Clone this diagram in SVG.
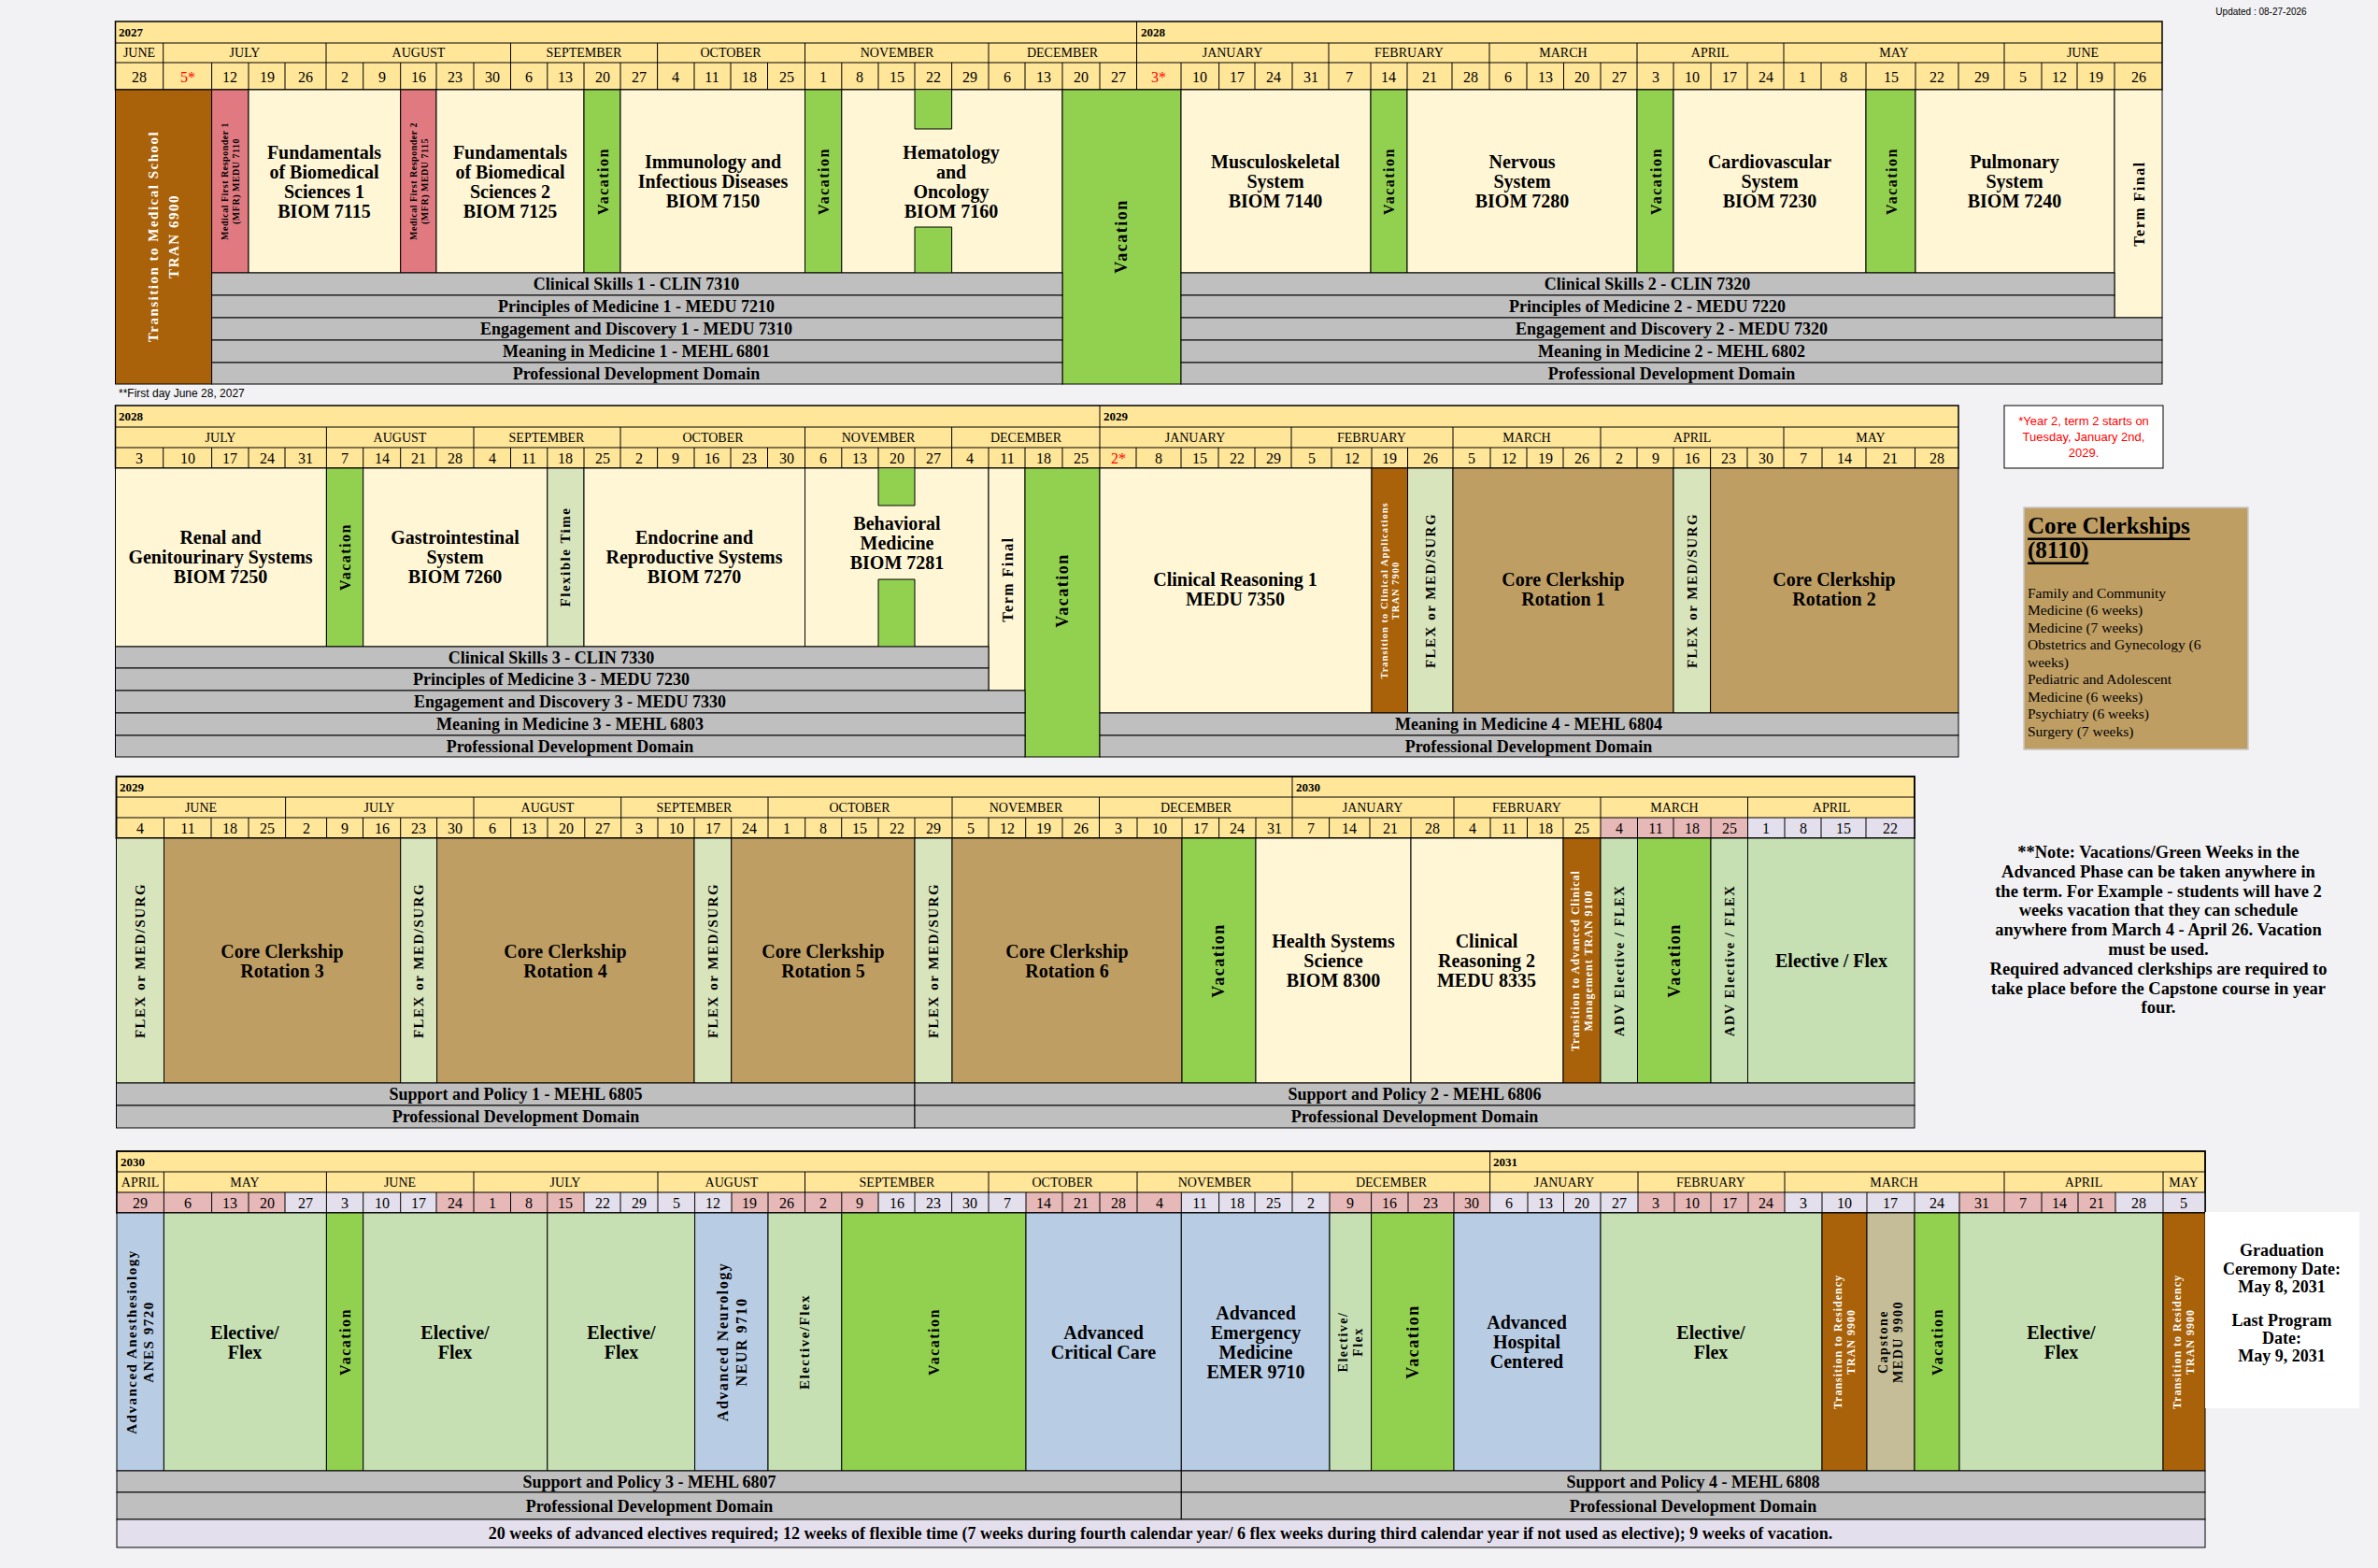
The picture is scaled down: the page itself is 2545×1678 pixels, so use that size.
<svg xmlns="http://www.w3.org/2000/svg" width="2545" height="1678" viewBox="0 0 2545 1678">
<style>
.bg{fill:#F2F2F4}
.hd{fill:#FFE699;stroke:#000;stroke-width:1.5}
.gl{stroke:#000;stroke-width:1;fill:none}
.b{stroke:#000;stroke-width:1}
.cr{fill:#FFF6D6}.gr{fill:#92D050}.br{fill:#A9620A}.pk{fill:#E07A80}.gy{fill:#BFBFBF}
.fx{fill:#D8E4BC}.el{fill:#C6E0B4}.bl{fill:#B8CCE4}.cc{fill:#BF9E64}.cp{fill:#C4BD97}
.P{fill:#E6B8B7}.L{fill:#E4DFEC}.lv{fill:#E4DFEC}
text{font-family:"Liberation Serif",serif;text-anchor:middle;dominant-baseline:central;fill:#000}
.yr{font-size:13px;font-weight:bold;text-anchor:start}
.mo{font-size:14px}
.dy{font-size:16px}
.red{fill:#FF0000}
.c{font-size:20px;font-weight:bold}
.g{font-size:18px;font-weight:bold}
.v{font-weight:bold;letter-spacing:1.5px}
.w{fill:#FFFFFF}
</style>
<rect class="bg" x="0" y="0" width="2545" height="1678"/>
<text x="2420" y="12" style="font-size:10px;font-family:'Liberation Sans',sans-serif">Updated : 08-27-2026</text>

<!-- ============ SECTION 1 ============ -->
<g id="sec1-header">
<rect class="hd" x="123.5" y="23" width="2190.5" height="73"/>
<path class="gl" d="M123.5 46H2314M123.5 67H2314M1216.5 23V46"/>
<path class="gl" d="M174.7 46V67M349 46V67M546.5 46V67M703.6 46V67M861.5 46V67M1058 46V67M1216.5 46V67M1422 46V67M1594 46V67M1752 46V67M1909 46V67M2145 46V67"/>
<path class="gl" d="M174.7 67V96M226.6 67V96M266 67V96M305 67V96M349 67V96M388.7 67V96M428.7 67V96M467 67V96M507 67V96M546.5 67V96M585.8 67V96M625 67V96M664 67V96M703.6 67V96M743 67V96M782 67V96M821.5 67V96M861.5 67V96M900.8 67V96M940 67V96M979 67V96M1018.6 67V96M1058 67V96M1097 67V96M1137 67V96M1177 67V96M1216.5 67V96M1264 67V96M1304.6 67V96M1343 67V96M1383 67V96M1422 67V96M1467 67V96M1506 67V96M1554 67V96M1594 67V96M1634 67V96M1673.5 67V96M1713 67V96M1752 67V96M1791 67V96M1831 67V96M1870 67V96M1909 67V96M1949 67V96M1997 67V96M2050 67V96M2096 67V96M2145 67V96M2185 67V96M2223 67V96M2263 67V96"/>
<text class="yr" x="127" y="34.5">2027</text><text class="yr" x="1221" y="34.5">2028</text>
<g class="mo">
<text x="149" y="56.5">JUNE</text><text x="262" y="56.5">JULY</text><text x="448" y="56.5">AUGUST</text><text x="625" y="56.5">SEPTEMBER</text><text x="782" y="56.5">OCTOBER</text><text x="960" y="56.5">NOVEMBER</text><text x="1137" y="56.5">DECEMBER</text><text x="1319" y="56.5">JANUARY</text><text x="1508" y="56.5">FEBRUARY</text><text x="1673" y="56.5">MARCH</text><text x="1830" y="56.5">APRIL</text><text x="2027" y="56.5">MAY</text><text x="2229" y="56.5">JUNE</text>
</g>
<g class="dy">
<text x="149" y="82">28</text><text class="red" x="201" y="82">5*</text><text x="246" y="82">12</text><text x="286" y="82">19</text><text x="327" y="82">26</text><text x="369" y="82">2</text><text x="409" y="82">9</text><text x="448" y="82">16</text><text x="487" y="82">23</text><text x="527" y="82">30</text><text x="566" y="82">6</text><text x="605" y="82">13</text><text x="645" y="82">20</text><text x="684" y="82">27</text><text x="723" y="82">4</text><text x="762" y="82">11</text><text x="802" y="82">18</text><text x="842" y="82">25</text><text x="881" y="82">1</text><text x="920" y="82">8</text><text x="960" y="82">15</text><text x="999" y="82">22</text><text x="1038" y="82">29</text><text x="1078" y="82">6</text><text x="1117" y="82">13</text><text x="1157" y="82">20</text><text x="1197" y="82">27</text><text class="red" x="1240" y="82">3*</text><text x="1284" y="82">10</text><text x="1324" y="82">17</text><text x="1363" y="82">24</text><text x="1403" y="82">31</text><text x="1444" y="82">7</text><text x="1486" y="82">14</text><text x="1530" y="82">21</text><text x="1574" y="82">28</text><text x="1614" y="82">6</text><text x="1654" y="82">13</text><text x="1693" y="82">20</text><text x="1733" y="82">27</text><text x="1772" y="82">3</text><text x="1811" y="82">10</text><text x="1851" y="82">17</text><text x="1890" y="82">24</text><text x="1929" y="82">1</text><text x="1973" y="82">8</text><text x="2024" y="82">15</text><text x="2073" y="82">22</text><text x="2121" y="82">29</text><text x="2165" y="82">5</text><text x="2204" y="82">12</text><text x="2243" y="82">19</text><text x="2289" y="82">26</text>
</g>
</g>
<g id="tran6900"><rect class="b br" x="123.5" y="96" width="103.1" height="315"/>
<text class="v w" transform="translate(175,253) rotate(-90)" style="font-size:15px"><tspan x="0" dy="-11">Transition to Medical School</tspan><tspan x="0" dy="22">TRAN 6900</tspan></text></g>
<g id="mfr1"><rect class="b pk" x="226.6" y="96" width="39.4" height="196"/>
<text class="v" transform="translate(246,194) rotate(-90)" style="font-size:10px;letter-spacing:0.5px"><tspan x="0" dy="-6">Medical First Responder 1</tspan><tspan x="0" dy="12">(MFR) MEDU 7110</tspan></text></g>
<g id="biom7115"><rect class="b cr" x="266" y="96" width="162.7" height="196"/>
<text class="c" x="347" y="194"><tspan x="347" dy="-31.5">Fundamentals</tspan><tspan x="347" dy="21">of Biomedical</tspan><tspan x="347" dy="21">Sciences 1</tspan><tspan x="347" dy="21">BIOM 7115</tspan></text></g>
<g id="mfr2"><rect class="b pk" x="428.7" y="96" width="38.3" height="196"/>
<text class="v" transform="translate(448,194) rotate(-90)" style="font-size:10px;letter-spacing:0.5px"><tspan x="0" dy="-6">Medical First Responder 2</tspan><tspan x="0" dy="12">(MFR) MEDU 7115</tspan></text></g>
<g id="biom7125"><rect class="b cr" x="467" y="96" width="158" height="196"/>
<text class="c" x="546" y="194"><tspan x="546" dy="-31.5">Fundamentals</tspan><tspan x="546" dy="21">of Biomedical</tspan><tspan x="546" dy="21">Sciences 2</tspan><tspan x="546" dy="21">BIOM 7125</tspan></text></g>
<g id="vac1"><rect class="b gr" x="625" y="96" width="39" height="196"/><text class="v" transform="translate(645,194) rotate(-90)" style="font-size:16px">Vacation</text></g>
<g id="biom7150"><rect class="b cr" x="664" y="96" width="197.5" height="196"/>
<text class="c" x="763" y="194"><tspan x="763" dy="-21">Immunology and</tspan><tspan x="763" dy="21">Infectious Diseases</tspan><tspan x="763" dy="21">BIOM 7150</tspan></text></g>
<g id="vac2"><rect class="b gr" x="861.5" y="96" width="39.3" height="196"/><text class="v" transform="translate(881,194) rotate(-90)" style="font-size:16px">Vacation</text></g>
<g id="biom7160"><rect class="b cr" x="900.8" y="96" width="236.2" height="196"/>
<rect class="gr" x="979" y="96.5" width="39.6" height="41.5"/><rect class="gr" x="979" y="243" width="39.6" height="48.5"/>
<path class="gl" d="M979 96V138H1018.6V96M979 292V243H1018.6V292"/>
<text class="c" x="1018" y="194"><tspan x="1018" dy="-31.5">Hematology</tspan><tspan x="1018" dy="21">and</tspan><tspan x="1018" dy="21">Oncology</tspan><tspan x="1018" dy="21">BIOM 7160</tspan></text></g>
<g id="vac3"><rect class="b gr" x="1137" y="96" width="127" height="315"/><text class="v" transform="translate(1200,253) rotate(-90)" style="font-size:18px">Vacation</text></g>
<g id="biom7140"><rect class="b cr" x="1264" y="96" width="203" height="196"/>
<text class="c" x="1365" y="194"><tspan x="1365" dy="-21">Musculoskeletal</tspan><tspan x="1365" dy="21">System</tspan><tspan x="1365" dy="21">BIOM 7140</tspan></text></g>
<g id="vac4"><rect class="b gr" x="1467" y="96" width="39" height="196"/><text class="v" transform="translate(1486,194) rotate(-90)" style="font-size:16px">Vacation</text></g>
<g id="biom7280"><rect class="b cr" x="1506" y="96" width="246" height="196"/>
<text class="c" x="1629" y="194"><tspan x="1629" dy="-21">Nervous</tspan><tspan x="1629" dy="21">System</tspan><tspan x="1629" dy="21">BIOM 7280</tspan></text></g>
<g id="vac5"><rect class="b gr" x="1752" y="96" width="39" height="196"/><text class="v" transform="translate(1772,194) rotate(-90)" style="font-size:16px">Vacation</text></g>
<g id="biom7230"><rect class="b cr" x="1791" y="96" width="206" height="196"/>
<text class="c" x="1894" y="194"><tspan x="1894" dy="-21">Cardiovascular</tspan><tspan x="1894" dy="21">System</tspan><tspan x="1894" dy="21">BIOM 7230</tspan></text></g>
<g id="vac6"><rect class="b gr" x="1997" y="96" width="53" height="196"/><text class="v" transform="translate(2024,194) rotate(-90)" style="font-size:16px">Vacation</text></g>
<g id="biom7240"><rect class="b cr" x="2050" y="96" width="213" height="196"/>
<text class="c" x="2156" y="194"><tspan x="2156" dy="-21">Pulmonary</tspan><tspan x="2156" dy="21">System</tspan><tspan x="2156" dy="21">BIOM 7240</tspan></text></g>
<g id="termfinal1"><rect class="b cr" x="2263" y="96" width="51" height="244"/><text class="v" transform="translate(2289,218) rotate(-90)" style="font-size:16px">Term Final</text></g>
<g id="sec1-bars">
<rect class="b gy" x="226.6" y="292" width="910.4" height="24"/><text class="g" x="681" y="304">Clinical Skills 1 - CLIN 7310</text>
<rect class="b gy" x="226.6" y="316" width="910.4" height="24"/><text class="g" x="681" y="328">Principles of Medicine 1 - MEDU 7210</text>
<rect class="b gy" x="226.6" y="340" width="910.4" height="24"/><text class="g" x="681" y="352">Engagement and Discovery 1 - MEDU 7310</text>
<rect class="b gy" x="226.6" y="364" width="910.4" height="24"/><text class="g" x="681" y="376">Meaning in Medicine 1 - MEHL 6801</text>
<rect class="b gy" x="226.6" y="388" width="910.4" height="23"/><text class="g" x="681" y="399.5">Professional Development Domain</text>
<rect class="b gy" x="1264" y="292" width="999" height="24"/><text class="g" x="1763" y="304">Clinical Skills 2 - CLIN 7320</text>
<rect class="b gy" x="1264" y="316" width="999" height="24"/><text class="g" x="1763" y="328">Principles of Medicine 2 - MEDU 7220</text>
<rect class="b gy" x="1264" y="340" width="1050" height="24"/><text class="g" x="1789" y="352">Engagement and Discovery 2 - MEDU 7320</text>
<rect class="b gy" x="1264" y="364" width="1050" height="24"/><text class="g" x="1789" y="376">Meaning in Medicine 2 - MEHL 6802</text>
<rect class="b gy" x="1264" y="388" width="1050" height="23"/><text class="g" x="1789" y="399.5">Professional Development Domain</text>
</g>
<text x="127" y="421" style="font-size:12px;text-anchor:start;font-family:'Liberation Sans',sans-serif">**First day June 28, 2027</text>

<!-- ============ SECTION 2 ============ -->
<g id="sec2-header">
<rect class="hd" x="123.5" y="434" width="1972.5" height="67"/>
<path class="gl" d="M123.5 457H2096M123.5 479H2096M1177 434V457"/>
<path class="gl" d="M349.4 457V479M507 457V479M664 457V479M861.5 457V479M1018.6 457V479M1177 457V479M1382 457V479M1555 457V479M1713 457V479M1909 457V479"/>
<path class="gl" d="M174.7 479V501M226.6 479V501M266 479V501M305 479V501M349.4 479V501M388.7 479V501M428.7 479V501M467 479V501M507 479V501M546.5 479V501M585.8 479V501M625 479V501M664 479V501M703.6 479V501M743 479V501M782 479V501M821.5 479V501M861.5 479V501M900.8 479V501M940 479V501M979 479V501M1018.6 479V501M1058 479V501M1097 479V501M1137 479V501M1177 479V501M1216 479V501M1264 479V501M1304 479V501M1343 479V501M1382 479V501M1425 479V501M1468 479V501M1506.5 479V501M1555 479V501M1595 479V501M1634 479V501M1673 479V501M1713 479V501M1752 479V501M1791 479V501M1830.6 479V501M1870 479V501M1909 479V501M1950 479V501M1997 479V501M2049.5 479V501"/>
<text class="yr" x="127" y="445.5">2028</text><text class="yr" x="1181" y="445.5">2029</text>
<g class="mo">
<text x="236" y="468">JULY</text><text x="428" y="468">AUGUST</text><text x="585" y="468">SEPTEMBER</text><text x="763" y="468">OCTOBER</text><text x="940" y="468">NOVEMBER</text><text x="1098" y="468">DECEMBER</text><text x="1279" y="468">JANUARY</text><text x="1468" y="468">FEBRUARY</text><text x="1634" y="468">MARCH</text><text x="1811" y="468">APRIL</text><text x="2002" y="468">MAY</text>
</g>
<g class="dy">
<text x="149" y="490">3</text><text x="201" y="490">10</text><text x="246" y="490">17</text><text x="286" y="490">24</text><text x="327" y="490">31</text><text x="369" y="490">7</text><text x="409" y="490">14</text><text x="448" y="490">21</text><text x="487" y="490">28</text><text x="527" y="490">4</text><text x="566" y="490">11</text><text x="605" y="490">18</text><text x="645" y="490">25</text><text x="684" y="490">2</text><text x="723" y="490">9</text><text x="762" y="490">16</text><text x="802" y="490">23</text><text x="842" y="490">30</text><text x="881" y="490">6</text><text x="920" y="490">13</text><text x="960" y="490">20</text><text x="999" y="490">27</text><text x="1038" y="490">4</text><text x="1078" y="490">11</text><text x="1117" y="490">18</text><text x="1157" y="490">25</text><text class="red" x="1197" y="490">2*</text><text x="1240" y="490">8</text><text x="1284" y="490">15</text><text x="1324" y="490">22</text><text x="1363" y="490">29</text><text x="1404" y="490">5</text><text x="1447" y="490">12</text><text x="1487" y="490">19</text><text x="1531" y="490">26</text><text x="1575" y="490">5</text><text x="1615" y="490">12</text><text x="1654" y="490">19</text><text x="1693" y="490">26</text><text x="1733" y="490">2</text><text x="1772" y="490">9</text><text x="1811" y="490">16</text><text x="1850" y="490">23</text><text x="1890" y="490">30</text><text x="1930" y="490">7</text><text x="1974" y="490">14</text><text x="2023" y="490">21</text><text x="2073" y="490">28</text>
</g>
</g>
<g id="biom7250"><rect class="b cr" x="123.5" y="501" width="225.9" height="191"/>
<text class="c" x="236" y="596"><tspan x="236" dy="-21">Renal and</tspan><tspan x="236" dy="21">Genitourinary Systems</tspan><tspan x="236" dy="21">BIOM 7250</tspan></text></g>
<g id="vac7"><rect class="b gr" x="349.4" y="501" width="39.3" height="191"/><text class="v" transform="translate(369,596) rotate(-90)" style="font-size:16px">Vacation</text></g>
<g id="biom7260"><rect class="b cr" x="388.7" y="501" width="197.1" height="191"/>
<text class="c" x="487" y="596"><tspan x="487" dy="-21">Gastrointestinal</tspan><tspan x="487" dy="21">System</tspan><tspan x="487" dy="21">BIOM 7260</tspan></text></g>
<g id="flextime"><rect class="b fx" x="585.8" y="501" width="39.2" height="191"/><text class="v" transform="translate(605,596) rotate(-90)" style="font-size:15px">Flexible Time</text></g>
<g id="biom7270"><rect class="b cr" x="625" y="501" width="236.5" height="191"/>
<text class="c" x="743" y="596"><tspan x="743" dy="-21">Endocrine and</tspan><tspan x="743" dy="21">Reproductive Systems</tspan><tspan x="743" dy="21">BIOM 7270</tspan></text></g>
<g id="biom7281"><rect class="b cr" x="861.5" y="501" width="196.5" height="191"/>
<rect class="gr" x="940" y="501.5" width="39" height="39.5"/><rect class="gr" x="940" y="620" width="39" height="71.5"/>
<path class="gl" d="M940 501V541H979V501M940 692V620H979V692"/>
<text class="c" x="960" y="581"><tspan x="960" dy="-21">Behavioral</tspan><tspan x="960" dy="21">Medicine</tspan><tspan x="960" dy="21">BIOM 7281</tspan></text></g>
<g id="termfinal2"><rect class="b cr" x="1058" y="501" width="39" height="238"/><text class="v" transform="translate(1078,620) rotate(-90)" style="font-size:16px">Term Final</text></g>
<g id="vac8"><rect class="b gr" x="1097" y="501" width="80" height="309"/><text class="v" transform="translate(1137,632) rotate(-90)" style="font-size:18px">Vacation</text></g>
<g id="medu7350"><rect class="b cr" x="1177" y="501" width="291" height="262"/>
<text class="c" x="1322" y="630"><tspan x="1322" dy="-10.5">Clinical Reasoning 1</tspan><tspan x="1322" dy="21">MEDU 7350</tspan></text></g>
<g id="tran7900"><rect class="b br" x="1468" y="501" width="38.5" height="262"/>
<text class="v w" transform="translate(1487,632) rotate(-90)" style="font-size:10.5px;letter-spacing:1px"><tspan x="0" dy="-6">Transition to Clinical Applications</tspan><tspan x="0" dy="12">TRAN 7900</tspan></text></g>
<g id="flex1"><rect class="b fx" x="1506.5" y="501" width="48.5" height="262"/><text class="v" transform="translate(1531,632) rotate(-90)" style="font-size:15px">FLEX or MED/SURG</text></g>
<g id="core1"><rect class="b cc" x="1555" y="501" width="236" height="262"/>
<text class="c" x="1673" y="630"><tspan x="1673" dy="-10.5">Core Clerkship</tspan><tspan x="1673" dy="21">Rotation 1</tspan></text></g>
<g id="flex2"><rect class="b fx" x="1791" y="501" width="39.6" height="262"/><text class="v" transform="translate(1811,632) rotate(-90)" style="font-size:15px">FLEX or MED/SURG</text></g>
<g id="core2"><rect class="b cc" x="1830.6" y="501" width="265.4" height="262"/>
<text class="c" x="1963" y="630"><tspan x="1963" dy="-10.5">Core Clerkship</tspan><tspan x="1963" dy="21">Rotation 2</tspan></text></g>
<g id="sec2-bars">
<rect class="b gy" x="123.5" y="692" width="934.5" height="23"/><text class="g" x="590" y="703.5">Clinical Skills 3 - CLIN 7330</text>
<rect class="b gy" x="123.5" y="715" width="934.5" height="24"/><text class="g" x="590" y="727">Principles of Medicine 3 - MEDU 7230</text>
<rect class="b gy" x="123.5" y="739" width="973.5" height="24"/><text class="g" x="610" y="751">Engagement and Discovery 3 - MEDU 7330</text>
<rect class="b gy" x="123.5" y="763" width="973.5" height="24"/><text class="g" x="610" y="775">Meaning in Medicine 3 - MEHL 6803</text>
<rect class="b gy" x="123.5" y="787" width="973.5" height="23"/><text class="g" x="610" y="798.5">Professional Development Domain</text>
<rect class="b gy" x="1177" y="763" width="919" height="24"/><text class="g" x="1636" y="775">Meaning in Medicine 4 - MEHL 6804</text>
<rect class="b gy" x="1177" y="787" width="919" height="23"/><text class="g" x="1636" y="798.5">Professional Development Domain</text>
</g>
<g id="note-year2"><rect x="2145" y="434" width="170" height="67" fill="#FFFFFF" stroke="#000" stroke-width="1"/>
<text class="red" x="2230" y="467" style="font-size:13px;font-family:'Liberation Sans',sans-serif"><tspan x="2230" dy="-17">*Year 2, term 2 starts on</tspan><tspan x="2230" dy="17">Tuesday, January 2nd,</tspan><tspan x="2230" dy="17">2029.</tspan></text></g>
<g id="core-list"><rect x="2166" y="543" width="240" height="259" fill="#BF9E64" stroke="#C8C8C8" stroke-width="1.5"/>
<text x="2170" y="562" style="font-size:25px;font-weight:bold;text-anchor:start;text-decoration:underline">Core Clerkships</text>
<text x="2170" y="588" style="font-size:25px;font-weight:bold;text-anchor:start;text-decoration:underline">(8110)</text>
<g style="font-size:15.5px"><text x="2170" y="634" style="text-anchor:start">Family and Community</text><text x="2170" y="652.5" style="text-anchor:start">Medicine (6 weeks)</text><text x="2170" y="671" style="text-anchor:start">Medicine (7 weeks)</text><text x="2170" y="689.5" style="text-anchor:start">Obstetrics and Gynecology (6</text><text x="2170" y="708" style="text-anchor:start">weeks)</text><text x="2170" y="726.5" style="text-anchor:start">Pediatric and Adolescent</text><text x="2170" y="745" style="text-anchor:start">Medicine (6 weeks)</text><text x="2170" y="763.5" style="text-anchor:start">Psychiatry (6 weeks)</text><text x="2170" y="782" style="text-anchor:start">Surgery (7 weeks)</text></g></g>

<!-- ============ SECTION 3 ============ -->
<g id="sec3-header">
<rect class="hd" x="124.5" y="831" width="1924.5" height="66"/>
<rect class="P" x="1713" y="875" width="157.5" height="22"/><rect class="L" x="1870.5" y="875" width="178.5" height="22"/>
<path class="gl" d="M124.5 853H2049M124.5 875H2049M124.5 897H2049M1383 831V853"/>
<path class="gl" d="M305.6 853V875M507 853V875M664.7 853V875M822 853V875M1019 853V875M1176.5 853V875M1383 853V875M1556 853V875M1713 853V875M1870.5 853V875"/>
<path class="gl" d="M175.5 875V897M226 875V897M266 875V897M305.6 875V897M349.6 875V897M388.5 875V897M428.7 875V897M467.6 875V897M507 875V897M546.7 875V897M586 875V897M625.8 875V897M664.7 875V897M704 875V897M743 875V897M782.7 875V897M822 875V897M861.7 875V897M900.7 875V897M940 875V897M979 875V897M1019 875V897M1058 875V897M1097.7 875V897M1137 875V897M1176.5 875V897M1217 875V897M1265 875V897M1304.6 875V897M1344 875V897M1383 875V897M1422.6 875V897M1466 875V897M1510 875V897M1556 875V897M1595 875V897M1634.5 875V897M1673 875V897M1713 875V897M1752.5 875V897M1791 875V897M1831 875V897M1870.5 875V897M1910 875V897M1949 875V897M1997 875V897"/>
<rect x="124.5" y="831" width="1924.5" height="66" fill="none" stroke="#000" stroke-width="1.5"/>
<text class="yr" x="128" y="842">2029</text><text class="yr" x="1387" y="842">2030</text>
<g class="mo">
<text x="215" y="864">JUNE</text><text x="406" y="864">JULY</text><text x="586" y="864">AUGUST</text><text x="743" y="864">SEPTEMBER</text><text x="920" y="864">OCTOBER</text><text x="1098" y="864">NOVEMBER</text><text x="1280" y="864">DECEMBER</text><text x="1469" y="864">JANUARY</text><text x="1634" y="864">FEBRUARY</text><text x="1792" y="864">MARCH</text><text x="1960" y="864">APRIL</text>
</g>
<g class="dy">
<text x="150" y="886">4</text><text x="201" y="886">11</text><text x="246" y="886">18</text><text x="286" y="886">25</text><text x="328" y="886">2</text><text x="369" y="886">9</text><text x="409" y="886">16</text><text x="448" y="886">23</text><text x="487" y="886">30</text><text x="527" y="886">6</text><text x="566" y="886">13</text><text x="606" y="886">20</text><text x="645" y="886">27</text><text x="684" y="886">3</text><text x="724" y="886">10</text><text x="763" y="886">17</text><text x="802" y="886">24</text><text x="842" y="886">1</text><text x="881" y="886">8</text><text x="920" y="886">15</text><text x="960" y="886">22</text><text x="999" y="886">29</text><text x="1039" y="886">5</text><text x="1078" y="886">12</text><text x="1117" y="886">19</text><text x="1157" y="886">26</text><text x="1197" y="886">3</text><text x="1241" y="886">10</text><text x="1285" y="886">17</text><text x="1324" y="886">24</text><text x="1364" y="886">31</text><text x="1403" y="886">7</text><text x="1444" y="886">14</text><text x="1488" y="886">21</text><text x="1533" y="886">28</text><text x="1576" y="886">4</text><text x="1615" y="886">11</text><text x="1654" y="886">18</text><text x="1693" y="886">25</text><text x="1733" y="886">4</text><text x="1772" y="886">11</text><text x="1811" y="886">18</text><text x="1851" y="886">25</text><text x="1890" y="886">1</text><text x="1930" y="886">8</text><text x="1973" y="886">15</text><text x="2023" y="886">22</text>
</g>
</g>
<g id="flex3"><rect class="b fx" x="124.5" y="897" width="51" height="262"/><text class="v" transform="translate(150,1028) rotate(-90)" style="font-size:15px">FLEX or MED/SURG</text></g>
<g id="core3"><rect class="b cc" x="175.5" y="897" width="253.2" height="262"/><text class="c" x="302" y="1028"><tspan x="302" dy="-10.5">Core Clerkship</tspan><tspan x="302" dy="21">Rotation 3</tspan></text></g>
<g id="flex4"><rect class="b fx" x="428.7" y="897" width="38.9" height="262"/><text class="v" transform="translate(448,1028) rotate(-90)" style="font-size:15px">FLEX or MED/SURG</text></g>
<g id="core4"><rect class="b cc" x="467.6" y="897" width="275.4" height="262"/><text class="c" x="605" y="1028"><tspan x="605" dy="-10.5">Core Clerkship</tspan><tspan x="605" dy="21">Rotation 4</tspan></text></g>
<g id="flex5"><rect class="b fx" x="743" y="897" width="39.7" height="262"/><text class="v" transform="translate(763,1028) rotate(-90)" style="font-size:15px">FLEX or MED/SURG</text></g>
<g id="core5"><rect class="b cc" x="782.7" y="897" width="196.3" height="262"/><text class="c" x="881" y="1028"><tspan x="881" dy="-10.5">Core Clerkship</tspan><tspan x="881" dy="21">Rotation 5</tspan></text></g>
<g id="flex6"><rect class="b fx" x="979" y="897" width="40" height="262"/><text class="v" transform="translate(999,1028) rotate(-90)" style="font-size:15px">FLEX or MED/SURG</text></g>
<g id="core6"><rect class="b cc" x="1019" y="897" width="246" height="262"/><text class="c" x="1142" y="1028"><tspan x="1142" dy="-10.5">Core Clerkship</tspan><tspan x="1142" dy="21">Rotation 6</tspan></text></g>
<g id="vac9"><rect class="b gr" x="1265" y="897" width="79" height="262"/><text class="v" transform="translate(1304,1028) rotate(-90)" style="font-size:18px">Vacation</text></g>
<g id="biom8300"><rect class="b cr" x="1344" y="897" width="166" height="262"/><text class="c" x="1427" y="1028"><tspan x="1427" dy="-21">Health Systems</tspan><tspan x="1427" dy="21">Science</tspan><tspan x="1427" dy="21">BIOM 8300</tspan></text></g>
<g id="medu8335"><rect class="b cr" x="1510" y="897" width="163" height="262"/><text class="c" x="1591" y="1028"><tspan x="1591" dy="-21">Clinical</tspan><tspan x="1591" dy="21">Reasoning 2</tspan><tspan x="1591" dy="21">MEDU 8335</tspan></text></g>
<g id="tran9100"><rect class="b br" x="1673" y="897" width="40" height="262"/>
<text class="v w" transform="translate(1693,1028) rotate(-90)" style="font-size:12px;letter-spacing:1px"><tspan x="0" dy="-7">Transition to Advanced Clinical</tspan><tspan x="0" dy="14">Management TRAN 9100</tspan></text></g>
<g id="adv1"><rect class="b el" x="1713" y="897" width="39.5" height="262"/><text class="v" transform="translate(1733,1028) rotate(-90)" style="font-size:14.5px">ADV Elective / FLEX</text></g>
<g id="vac10"><rect class="b gr" x="1752.5" y="897" width="78.5" height="262"/><text class="v" transform="translate(1792,1028) rotate(-90)" style="font-size:18px">Vacation</text></g>
<g id="adv2"><rect class="b el" x="1831" y="897" width="39.5" height="262"/><text class="v" transform="translate(1851,1028) rotate(-90)" style="font-size:14.5px">ADV Elective / FLEX</text></g>
<g id="elective1"><rect class="b el" x="1870.5" y="897" width="178.5" height="262"/><text class="c" x="1960" y="1028">Elective / Flex</text></g>
<g id="sec3-bars">
<rect class="b gy" x="124.5" y="1159" width="854.5" height="24"/><text class="g" x="552" y="1171">Support and Policy 1 - MEHL 6805</text>
<rect class="b gy" x="124.5" y="1183" width="854.5" height="24"/><text class="g" x="552" y="1195">Professional Development Domain</text>
<rect class="b gy" x="979" y="1159" width="1070" height="24"/><text class="g" x="1514" y="1171">Support and Policy 2 - MEHL 6806</text>
<rect class="b gy" x="979" y="1183" width="1070" height="24"/><text class="g" x="1514" y="1195">Professional Development Domain</text>
</g>
<g id="note-advanced">
<text class="g" x="2310" y="995" style="font-size:18.5px"><tspan x="2310" dy="-83">**Note: Vacations/Green Weeks  in the</tspan><tspan x="2310" dy="20.8">Advanced Phase can be taken anywhere in</tspan><tspan x="2310" dy="20.8">the term. For Example - students will have 2</tspan><tspan x="2310" dy="20.8">weeks vacation that they can schedule</tspan><tspan x="2310" dy="20.8">anywhere from March 4 - April 26. Vacation</tspan><tspan x="2310" dy="20.8">must be used.</tspan><tspan x="2310" dy="20.8">Required advanced clerkships are required to</tspan><tspan x="2310" dy="20.8">take place before the Capstone course in year</tspan><tspan x="2310" dy="20.8">four.</tspan></text></g>

<!-- ============ SECTION 4 ============ -->
<g id="sec4-header">
<rect class="hd" x="125" y="1232" width="2235" height="66"/>
<g>
<rect class="P" x="125" y="1276" width="50.4" height="22"/><rect class="P" x="175.4" y="1276" width="51.2" height="22"/><rect class="P" x="226.6" y="1276" width="39.4" height="22"/><rect class="P" x="266" y="1276" width="39" height="22"/><rect class="L" x="305" y="1276" width="44.4" height="22"/>
<rect class="L" x="349.4" y="1276" width="39.3" height="22"/><rect class="L" x="388.7" y="1276" width="40" height="22"/><rect class="L" x="428.7" y="1276" width="38.3" height="22"/><rect class="P" x="467" y="1276" width="40" height="22"/>
<rect class="P" x="507" y="1276" width="39.5" height="22"/><rect class="P" x="546.5" y="1276" width="39.3" height="22"/><rect class="P" x="585.8" y="1276" width="39.2" height="22"/><rect class="L" x="625" y="1276" width="39" height="22"/><rect class="L" x="664" y="1276" width="40" height="22"/>
<rect class="L" x="704" y="1276" width="39.6" height="22"/><rect class="L" x="743.6" y="1276" width="39.4" height="22"/><rect class="P" x="783" y="1276" width="39" height="22"/><rect class="P" x="822" y="1276" width="39.5" height="22"/>
<rect class="P" x="861.5" y="1276" width="39.3" height="22"/><rect class="P" x="900.8" y="1276" width="39.2" height="22"/><rect class="L" x="940" y="1276" width="39" height="22"/><rect class="L" x="979" y="1276" width="39.6" height="22"/><rect class="L" x="1018.6" y="1276" width="39.4" height="22"/>
<rect class="L" x="1058" y="1276" width="40" height="22"/><rect class="P" x="1098" y="1276" width="39" height="22"/><rect class="P" x="1137" y="1276" width="40" height="22"/><rect class="P" x="1177" y="1276" width="40" height="22"/>
<rect class="P" x="1217" y="1276" width="47.3" height="22"/><rect class="L" x="1264.3" y="1276" width="40.3" height="22"/><rect class="L" x="1304.6" y="1276" width="38.4" height="22"/><rect class="L" x="1343" y="1276" width="40" height="22"/>
<rect class="L" x="1383" y="1276" width="40" height="22"/><rect class="P" x="1423" y="1276" width="44.6" height="22"/><rect class="P" x="1467.6" y="1276" width="39.4" height="22"/><rect class="P" x="1507" y="1276" width="49" height="22"/><rect class="P" x="1556" y="1276" width="38.6" height="22"/>
<rect class="L" x="1594.6" y="1276" width="40.4" height="22"/><rect class="L" x="1635" y="1276" width="38.5" height="22"/><rect class="L" x="1673.5" y="1276" width="39.5" height="22"/><rect class="L" x="1713" y="1276" width="40" height="22"/>
<rect class="P" x="1753" y="1276" width="39" height="22"/><rect class="P" x="1792" y="1276" width="39" height="22"/><rect class="P" x="1831" y="1276" width="40" height="22"/><rect class="P" x="1871" y="1276" width="39" height="22"/>
<rect class="L" x="1910" y="1276" width="40" height="22"/><rect class="L" x="1950" y="1276" width="48" height="22"/><rect class="L" x="1998" y="1276" width="51" height="22"/><rect class="L" x="2049" y="1276" width="48" height="22"/><rect class="P" x="2097" y="1276" width="48" height="22"/>
<rect class="P" x="2145" y="1276" width="40" height="22"/><rect class="P" x="2185" y="1276" width="39" height="22"/><rect class="P" x="2224" y="1276" width="40" height="22"/><rect class="L" x="2264" y="1276" width="51" height="22"/>
<rect class="L" x="2315" y="1276" width="45" height="22"/>
</g>
<path class="gl" d="M125 1254H2360M125 1276H2360M125 1298H2360M1594.6 1232V1254"/>
<path class="gl" d="M175.4 1254V1276M349.4 1254V1276M507 1254V1276M704 1254V1276M861.5 1254V1276M1058 1254V1276M1217 1254V1276M1383 1254V1276M1594.6 1254V1276M1753 1254V1276M1910 1254V1276M2145 1254V1276M2315 1254V1276"/>
<path class="gl" d="M175.4 1276V1298M226.6 1276V1298M266 1276V1298M305 1276V1298M349.4 1276V1298M388.7 1276V1298M428.7 1276V1298M467 1276V1298M507 1276V1298M546.5 1276V1298M585.8 1276V1298M625 1276V1298M664 1276V1298M704 1276V1298M743.6 1276V1298M783 1276V1298M822 1276V1298M861.5 1276V1298M900.8 1276V1298M940 1276V1298M979 1276V1298M1018.6 1276V1298M1058 1276V1298M1098 1276V1298M1137 1276V1298M1177 1276V1298M1217 1276V1298M1264.3 1276V1298M1304.6 1276V1298M1343 1276V1298M1383 1276V1298M1423 1276V1298M1467.6 1276V1298M1507 1276V1298M1556 1276V1298M1594.6 1276V1298M1635 1276V1298M1673.5 1276V1298M1713 1276V1298M1753 1276V1298M1792 1276V1298M1831 1276V1298M1871 1276V1298M1910 1276V1298M1950 1276V1298M1998 1276V1298M2049 1276V1298M2097 1276V1298M2145 1276V1298M2185 1276V1298M2224 1276V1298M2264 1276V1298M2315 1276V1298"/>
<rect x="125" y="1232" width="2235" height="66" fill="none" stroke="#000" stroke-width="1.5"/>
<text class="yr" x="129" y="1243">2030</text><text class="yr" x="1598" y="1243">2031</text>
<g class="mo">
<text x="150" y="1265">APRIL</text><text x="262" y="1265">MAY</text><text x="428" y="1265">JUNE</text><text x="605" y="1265">JULY</text><text x="783" y="1265">AUGUST</text><text x="960" y="1265">SEPTEMBER</text><text x="1137" y="1265">OCTOBER</text><text x="1300" y="1265">NOVEMBER</text><text x="1489" y="1265">DECEMBER</text><text x="1674" y="1265">JANUARY</text><text x="1831" y="1265">FEBRUARY</text><text x="2027" y="1265">MARCH</text><text x="2230" y="1265">APRIL</text><text x="2337" y="1265">MAY</text>
</g>
<g class="dy">
<text x="150" y="1287">29</text><text x="201" y="1287">6</text><text x="246" y="1287">13</text><text x="286" y="1287">20</text><text x="327" y="1287">27</text><text x="369" y="1287">3</text><text x="409" y="1287">10</text><text x="448" y="1287">17</text><text x="487" y="1287">24</text><text x="527" y="1287">1</text><text x="566" y="1287">8</text><text x="605" y="1287">15</text><text x="645" y="1287">22</text><text x="684" y="1287">29</text><text x="724" y="1287">5</text><text x="763" y="1287">12</text><text x="802" y="1287">19</text><text x="842" y="1287">26</text><text x="881" y="1287">2</text><text x="920" y="1287">9</text><text x="960" y="1287">16</text><text x="999" y="1287">23</text><text x="1038" y="1287">30</text><text x="1078" y="1287">7</text><text x="1117" y="1287">14</text><text x="1157" y="1287">21</text><text x="1197" y="1287">28</text><text x="1241" y="1287">4</text><text x="1284" y="1287">11</text><text x="1324" y="1287">18</text><text x="1363" y="1287">25</text><text x="1403" y="1287">2</text><text x="1445" y="1287">9</text><text x="1487" y="1287">16</text><text x="1531" y="1287">23</text><text x="1575" y="1287">30</text><text x="1615" y="1287">6</text><text x="1654" y="1287">13</text><text x="1693" y="1287">20</text><text x="1733" y="1287">27</text><text x="1772" y="1287">3</text><text x="1811" y="1287">10</text><text x="1851" y="1287">17</text><text x="1890" y="1287">24</text><text x="1930" y="1287">3</text><text x="1974" y="1287">10</text><text x="2023" y="1287">17</text><text x="2073" y="1287">24</text><text x="2121" y="1287">31</text><text x="2165" y="1287">7</text><text x="2204" y="1287">14</text><text x="2244" y="1287">21</text><text x="2289" y="1287">28</text><text x="2337" y="1287">5</text>
</g>
</g>
<g id="anes9720"><rect class="b bl" x="125" y="1298" width="50.4" height="276"/><text class="v" transform="translate(150,1436) rotate(-90)" style="font-size:15px"><tspan x="0" dy="-9">Advanced Anesthesiology</tspan><tspan x="0" dy="18">ANES 9720</tspan></text></g>
<g id="elective2"><rect class="b el" x="175.4" y="1298" width="174" height="276"/><text class="c" x="262" y="1436"><tspan x="262" dy="-10.5">Elective/</tspan><tspan x="262" dy="21">Flex</tspan></text></g>
<g id="vac11"><rect class="b gr" x="349.4" y="1298" width="39.3" height="276"/><text class="v" transform="translate(369,1436) rotate(-90)" style="font-size:16px">Vacation</text></g>
<g id="elective3"><rect class="b el" x="388.7" y="1298" width="197.1" height="276"/><text class="c" x="487" y="1436"><tspan x="487" dy="-10.5">Elective/</tspan><tspan x="487" dy="21">Flex</tspan></text></g>
<g id="elective4"><rect class="b el" x="585.8" y="1298" width="157.8" height="276"/><text class="c" x="665" y="1436"><tspan x="665" dy="-10.5">Elective/</tspan><tspan x="665" dy="21">Flex</tspan></text></g>
<g id="neur9710"><rect class="b bl" x="743.6" y="1298" width="78.4" height="276"/><text class="v" transform="translate(783,1436) rotate(-90)" style="font-size:16px"><tspan x="0" dy="-10">Advanced Neurology</tspan><tspan x="0" dy="20">NEUR 9710</tspan></text></g>
<g id="elective5"><rect class="b el" x="822" y="1298" width="78.8" height="276"/><text class="v" transform="translate(861,1436) rotate(-90)" style="font-size:15px">Elective/Flex</text></g>
<g id="vac12"><rect class="b gr" x="900.8" y="1298" width="197.2" height="276"/><text class="v" transform="translate(999,1436) rotate(-90)" style="font-size:16px">Vacation</text></g>
<g id="critcare"><rect class="b bl" x="1098" y="1298" width="166.3" height="276"/><text class="c" x="1181" y="1436"><tspan x="1181" dy="-10.5">Advanced</tspan><tspan x="1181" dy="21">Critical Care</tspan></text></g>
<g id="emer9710"><rect class="b bl" x="1264.3" y="1298" width="158.7" height="276"/><text class="c" x="1344" y="1436"><tspan x="1344" dy="-31.5">Advanced</tspan><tspan x="1344" dy="21">Emergency</tspan><tspan x="1344" dy="21">Medicine</tspan><tspan x="1344" dy="21">EMER 9710</tspan></text></g>
<g id="elective6"><rect class="b el" x="1423" y="1298" width="44.6" height="276"/><text class="v" transform="translate(1445,1436) rotate(-90)" style="font-size:14px"><tspan x="0" dy="-8">Elective/</tspan><tspan x="0" dy="16">Flex</tspan></text></g>
<g id="vac13"><rect class="b gr" x="1467.6" y="1298" width="88.4" height="276"/><text class="v" transform="translate(1512,1436) rotate(-90)" style="font-size:18px">Vacation</text></g>
<g id="hospital"><rect class="b bl" x="1556" y="1298" width="157" height="276"/><text class="c" x="1634" y="1436"><tspan x="1634" dy="-21">Advanced</tspan><tspan x="1634" dy="21">Hospital</tspan><tspan x="1634" dy="21">Centered</tspan></text></g>
<g id="elective7"><rect class="b el" x="1713" y="1298" width="237" height="276"/><text class="c" x="1831" y="1436"><tspan x="1831" dy="-10.5">Elective/</tspan><tspan x="1831" dy="21">Flex</tspan></text></g>
<g id="tran9900a"><rect class="b br" x="1950" y="1298" width="48" height="276"/><text class="v w" transform="translate(1974,1436) rotate(-90)" style="font-size:12px;letter-spacing:1px"><tspan x="0" dy="-7">Transition to Residency</tspan><tspan x="0" dy="14">TRAN 9900</tspan></text></g>
<g id="medu9900"><rect class="b cp" x="1998" y="1298" width="51" height="276"/><text class="v" transform="translate(2023,1436) rotate(-90)" style="font-size:14px"><tspan x="0" dy="-8">Capstone</tspan><tspan x="0" dy="16">MEDU 9900</tspan></text></g>
<g id="vac14"><rect class="b gr" x="2049" y="1298" width="48" height="276"/><text class="v" transform="translate(2073,1436) rotate(-90)" style="font-size:16px">Vacation</text></g>
<g id="elective8"><rect class="b el" x="2097" y="1298" width="218" height="276"/><text class="c" x="2206" y="1436"><tspan x="2206" dy="-10.5">Elective/</tspan><tspan x="2206" dy="21">Flex</tspan></text></g>
<g id="tran9900b"><rect class="b br" x="2315" y="1298" width="45" height="276"/><text class="v w" transform="translate(2337,1436) rotate(-90)" style="font-size:12px;letter-spacing:1px"><tspan x="0" dy="-7">Transition to Residency</tspan><tspan x="0" dy="14">TRAN 9900</tspan></text></g>
<g id="sec4-bars">
<rect class="b gy" x="125" y="1574" width="1139.3" height="23"/><text class="g" x="695" y="1585.5">Support and Policy 3 - MEHL 6807</text>
<rect class="b gy" x="125" y="1597" width="1139.3" height="29"/><text class="g" x="695" y="1611.5">Professional Development Domain</text>
<rect class="b gy" x="1264.3" y="1574" width="1095.7" height="23"/><text class="g" x="1812" y="1585.5">Support and Policy 4 - MEHL 6808</text>
<rect class="b gy" x="1264.3" y="1597" width="1095.7" height="29"/><text class="g" x="1812" y="1611.5">Professional Development Domain</text>
<rect class="b lv" x="125" y="1626" width="2235" height="30"/><text class="g" x="1242" y="1641">20 weeks of advanced electives required; 12 weeks of flexible time (7 weeks during fourth calendar year/ 6 flex weeks during third calendar year if not used as elective); 9 weeks of vacation.</text>
</g>
<g id="graduation"><rect x="2360" y="1297" width="165" height="210" fill="#FFFFFF"/>
<text class="g" x="2442" y="1357"><tspan x="2442" dy="-19">Graduation</tspan><tspan x="2442" dy="19.5">Ceremony Date:</tspan><tspan x="2442" dy="19.5">May 8, 2031</tspan><tspan x="2442" dy="36">Last Program</tspan><tspan x="2442" dy="18.5">Date:</tspan><tspan x="2442" dy="19.5">May 9, 2031</tspan></text></g>
</svg>
